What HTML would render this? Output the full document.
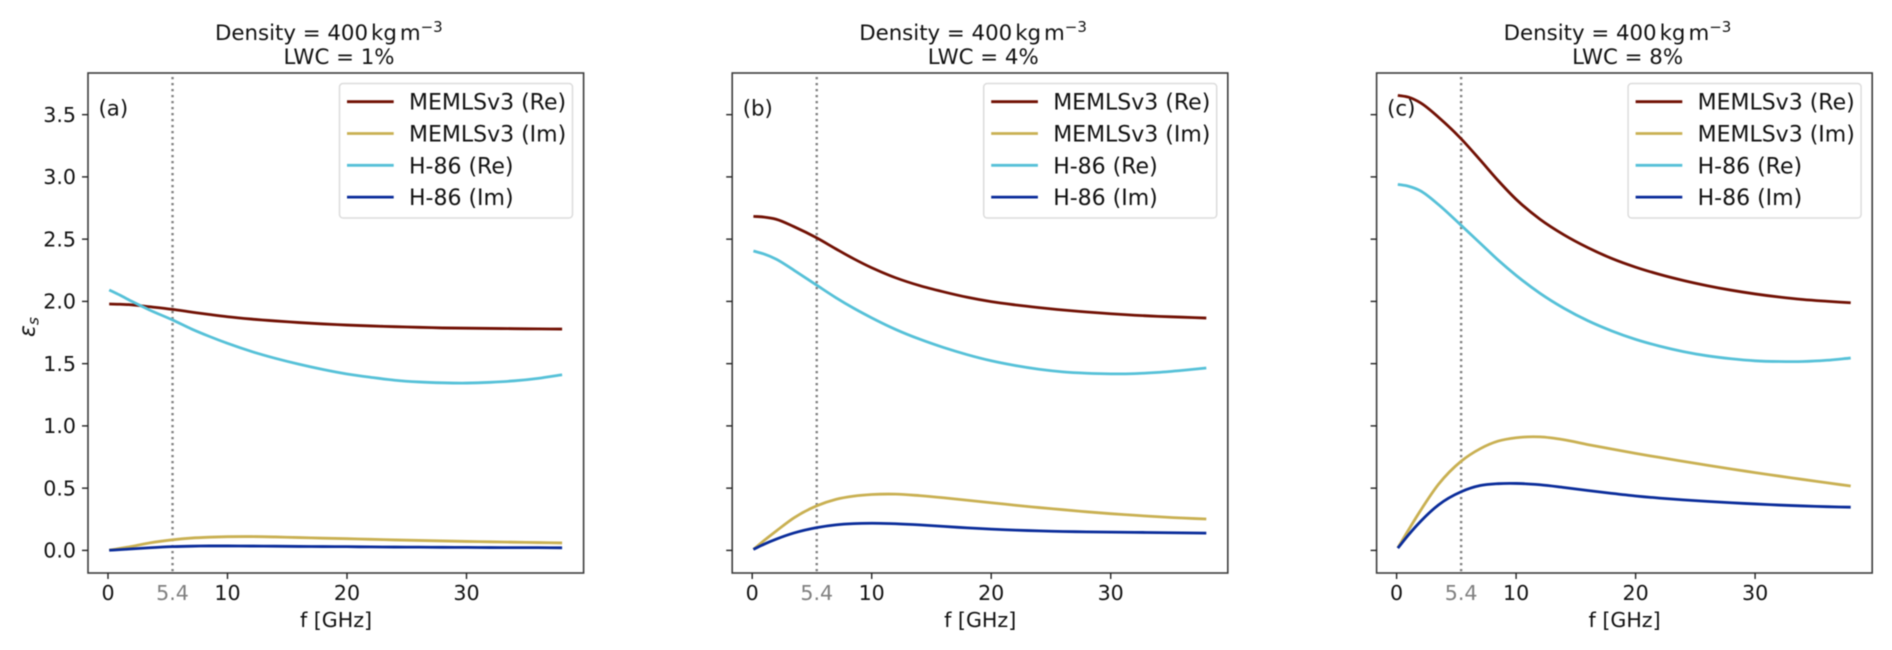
<!DOCTYPE html>
<html lang="en">
<head>
<meta charset="utf-8">
<title>Snow permittivity vs frequency</title>
<style>
  html, body { margin: 0; padding: 0; background: #fff; width: 1892px; height: 650px; overflow: hidden; }
  #figure { display: block; filter: blur(0.4px); }
  text { font-family: "DejaVu Sans", "Liberation Sans", sans-serif; fill: #111; }
</style>
</head>
<body>
<svg id="figure" xmlns="http://www.w3.org/2000/svg" width="1892" height="650" viewBox="0 0 1892 650"></svg>
<script>
// ---- data ----
const frequencies = [0.1, 1, 2, 3.5, 5.4, 7, 8.5, 10, 12, 14, 16, 18, 20, 22, 24, 26, 28, 30, 32, 34, 36, 38];

const panelLetters = ['(a)', '(b)', '(c)'];
const lwcTitles = ['LWC = 1%', 'LWC = 4%', 'LWC = 8%'];
const seriesLabels = ['MEMLSv3 (Re)', 'MEMLSv3 (Im)', 'H-86 (Re)', 'H-86 (Im)'];
const xTickValues = [0, 10, 20, 30];
const xTickLabels = ['0', '10', '20', '30'];
const yTickValues = [0, 0.5, 1, 1.5, 2, 2.5, 3, 3.5];
const yTickLabels = ['0.0', '0.5', '1.0', '1.5', '2.0', '2.5', '3.0', '3.5'];
const markerFrequency = 5.4;
const markerLabel = '5.4';

const memlsReA = [1.979, 1.977, 1.972, 1.957, 1.936, 1.914, 1.895, 1.877, 1.858, 1.843, 1.830, 1.819, 1.810, 1.803, 1.797, 1.792, 1.787, 1.785, 1.783, 1.781, 1.779, 1.778];
const memlsImA = [0.002, 0.016, 0.032, 0.060, 0.085, 0.099, 0.106, 0.110, 0.111, 0.108, 0.103, 0.098, 0.094, 0.089, 0.084, 0.080, 0.076, 0.072, 0.069, 0.066, 0.063, 0.060];
const h86ReA = [2.092, 2.050, 2.000, 1.930, 1.851, 1.778, 1.718, 1.663, 1.598, 1.543, 1.495, 1.453, 1.417, 1.390, 1.367, 1.353, 1.346, 1.344, 1.350, 1.362, 1.382, 1.411];
const h86ImA = [0.001, 0.006, 0.012, 0.021, 0.030, 0.034, 0.036, 0.036, 0.035, 0.034, 0.032, 0.031, 0.030, 0.028, 0.027, 0.026, 0.025, 0.024, 0.023, 0.022, 0.022, 0.021];

const memlsReB = [2.683, 2.677, 2.660, 2.600, 2.510, 2.422, 2.342, 2.270, 2.190, 2.127, 2.077, 2.033, 1.998, 1.972, 1.950, 1.931, 1.915, 1.901, 1.889, 1.880, 1.873, 1.866];
const memlsImB = [0.008, 0.080, 0.155, 0.262, 0.358, 0.410, 0.436, 0.449, 0.452, 0.440, 0.423, 0.403, 0.383, 0.363, 0.344, 0.327, 0.310, 0.295, 0.282, 0.270, 0.260, 0.252];
const h86ReB = [2.405, 2.380, 2.340, 2.250, 2.130, 2.030, 1.945, 1.868, 1.775, 1.697, 1.630, 1.572, 1.523, 1.485, 1.455, 1.434, 1.423, 1.418, 1.420, 1.430, 1.446, 1.465];
const h86ImB = [0.008, 0.050, 0.090, 0.140, 0.183, 0.205, 0.215, 0.218, 0.214, 0.205, 0.193, 0.181, 0.171, 0.163, 0.157, 0.152, 0.149, 0.147, 0.145, 0.143, 0.141, 0.139];

const memlsReC = [3.655, 3.640, 3.595, 3.480, 3.306, 3.135, 2.970, 2.820, 2.660, 2.535, 2.432, 2.345, 2.275, 2.217, 2.168, 2.126, 2.090, 2.060, 2.035, 2.015, 2.001, 1.989];
const memlsImC = [0.020, 0.165, 0.320, 0.530, 0.716, 0.817, 0.878, 0.905, 0.912, 0.889, 0.850, 0.814, 0.779, 0.747, 0.715, 0.684, 0.654, 0.625, 0.597, 0.570, 0.543, 0.517];
const h86ReC = [2.940, 2.925, 2.888, 2.778, 2.611, 2.467, 2.332, 2.209, 2.065, 1.945, 1.845, 1.763, 1.695, 1.641, 1.597, 1.563, 1.539, 1.523, 1.517, 1.517, 1.527, 1.545];
const h86ImC = [0.018, 0.125, 0.232, 0.365, 0.471, 0.521, 0.536, 0.538, 0.527, 0.505, 0.481, 0.458, 0.437, 0.420, 0.406, 0.394, 0.383, 0.373, 0.364, 0.357, 0.351, 0.347];

const panelSeries = [
  [memlsReA, memlsImA, h86ReA, h86ImA],
  [memlsReB, memlsImB, h86ReB, h86ImB],
  [memlsReC, memlsImC, h86ReC, h86ImC]
];

// ---- layout ----
const NS = 'http://www.w3.org/2000/svg';
const svg = document.getElementById('figure');
const panelLefts = [88, 732.2, 1376.6];
const panelWidth = 495.6;
const TOP = 73, BOTTOM = 573;
const seriesColors = ['#711003', '#c9b052', '#56c1d8', '#0a2c9a'];
const slugs = ['memls-re', 'memls-im', 'h86-re', 'h86-im'];
const FS = { tick: 20.6, legend: 22, title: 21.3, label: 21.3 };

function yScale(v) { return 550.4 - 124.5 * v; }
function xScale(left, f) { return left + 20 + 11.95 * f; }

function make(tag, attrs, parent, content) {
  const el = document.createElementNS(NS, tag);
  for (const k in attrs) el.setAttribute(k, attrs[k]);
  if (content !== undefined) el.textContent = content;
  parent.appendChild(el);
  return el;
}

function tangent(points, i) {
  if (i === 0) return (points[1][1] - points[0][1]) / (points[1][0] - points[0][0]);
  if (i === points.length - 1) return (points[i][1] - points[i - 1][1]) / (points[i][0] - points[i - 1][0]);
  const h0 = points[i][0] - points[i - 1][0], h1 = points[i + 1][0] - points[i][0];
  const d0 = (points[i][1] - points[i - 1][1]) / h0, d1 = (points[i + 1][1] - points[i][1]) / h1;
  return (h1 * d0 + h0 * d1) / (h0 + h1);
}

function smoothPath(points) {
  let d = 'M' + points[0][0].toFixed(2) + ' ' + points[0][1].toFixed(2);
  for (let i = 0; i < points.length - 1; i++) {
    const p1 = points[i], p2 = points[i + 1];
    const h = p2[0] - p1[0];
    const m1 = tangent(points, i), m2 = tangent(points, i + 1);
    d += 'C' + (p1[0] + h / 3).toFixed(2) + ' ' + (p1[1] + m1 * h / 3).toFixed(2) + ' ' +
         (p2[0] - h / 3).toFixed(2) + ' ' + (p2[1] - m2 * h / 3).toFixed(2) + ' ' +
         p2[0].toFixed(2) + ' ' + p2[1].toFixed(2);
  }
  return d;
}

panelLefts.forEach(function (left, p) {
  const letter = ['a', 'b', 'c'][p];
  const g = make('g', {}, svg);
  
  

  // title
  const tx = left + 127;
  const t1 = make('text', { x: tx, y: 40, 'font-size': FS.title }, g);
  
  
  make('tspan', {}, t1, 'Density = 400');
  make('tspan', { dx: 3 }, t1, 'kg');
  make('tspan', { dx: 3 }, t1, 'm');
  make('tspan', { dy: -8, 'font-size': 15 }, t1, '\u22123');
  const t2 = make('text', { x: left + 251, y: 64, 'font-size': FS.title, 'text-anchor': 'middle' }, g, lwcTitles[p]);
  
  

  // marker line at 5.4 GHz
  const mx = xScale(left, markerFrequency);
  const marker = make('line', { x1: mx, x2: mx, y1: 77, y2: BOTTOM, stroke: '#7f7f7f', 'stroke-width': 2.4, 'stroke-dasharray': '2.2 3.8' }, g);
  
  

  // series
  panelSeries[p].forEach(function (values, s) {
    const pts = values.map(function (v, i) { return [xScale(left, frequencies[i]), yScale(v)]; });
    const path = make('path', { d: smoothPath(pts), fill: 'none', stroke: seriesColors[s], 'stroke-width': 2.8 }, g);
    
    
  });

  // axes frame
  const frame = make('rect', { x: left, y: TOP, width: panelWidth, height: BOTTOM - TOP, fill: 'none', stroke: '#3d3d3d', 'stroke-width': 1.6 }, g);
  
  

  // x ticks
  xTickValues.forEach(function (v, i) {
    const x = xScale(left, v);
    const tick = make('line', { x1: x, x2: x, y1: BOTTOM, y2: BOTTOM + 6, stroke: '#222', 'stroke-width': 1.4 }, g);
    
    
    const lab = make('text', { x: x, y: 600, 'font-size': FS.tick, 'text-anchor': 'middle' }, g, xTickLabels[i]);
    
    
  });
  const mlab = make('text', { x: mx, y: 600, 'font-size': FS.tick, 'text-anchor': 'middle', style: 'fill:#808080' }, g, markerLabel);
  
  
  const xTitle = make('text', { x: left + 248, y: 627, 'font-size': FS.tick, 'text-anchor': 'middle' }, g, 'f [GHz]');
  
  

  // y ticks
  yTickValues.forEach(function (v, i) {
    const y = yScale(v);
    const tick = make('line', { x1: left - 6, x2: left, y1: y, y2: y, stroke: '#222', 'stroke-width': 1.4 }, g);
    
    
    if (p === 0) {
      const lab = make('text', { x: 76, y: y + 7.2, 'font-size': FS.tick, 'text-anchor': 'end' }, g, yTickLabels[i]);
      
      
    }
  });

  // panel letter
  const pl = make('text', { x: left + 10.5, y: 115.5, 'font-size': FS.label }, g, panelLetters[p]);
  
  

  // legend
  const lg = make('g', {}, g);
  
  
  const box = make('rect', { x: left + 251.5, y: 83.5, width: 233, height: 134.5, rx: 3.5, fill: '#fff', 'fill-opacity': 0.85, stroke: '#dcdcdc', 'stroke-width': 1.5 }, lg);
  
  
  seriesLabels.forEach(function (label, s) {
    const y = 101.7 + s * 31.8;
    const swatch = make('line', { x1: left + 259, x2: left + 305.7, y1: y, y2: y, stroke: seriesColors[s], 'stroke-width': 2.8 }, lg);
    
    
    const txt = make('text', { x: left + 321, y: y + 8, 'font-size': FS.legend }, lg, label);
    
    
  });
});

// y-axis title
const yTitle = make('text', { transform: 'translate(34.5 327) rotate(-90)', 'font-size': 22, 'text-anchor': 'middle' }, svg);


make('tspan', { 'font-style': 'italic' }, yTitle, '\u03b5');
make('tspan', { 'font-style': 'italic', 'font-size': 15.5, dy: 4 }, yTitle, 's');
</script>
</body>
</html>
